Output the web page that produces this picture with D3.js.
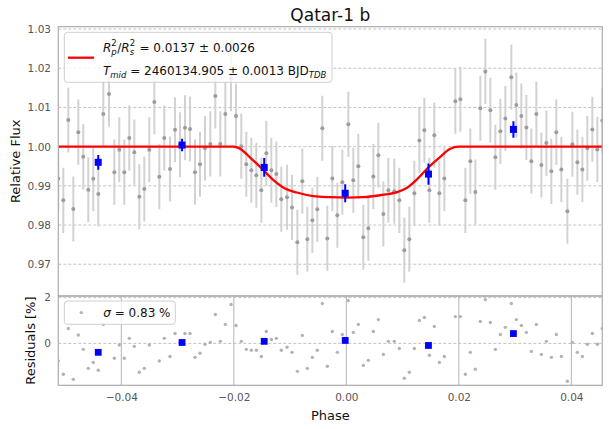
<!DOCTYPE html>
<html><head><meta charset="utf-8">
<script src="https://cdn.jsdelivr.net/npm/d3@7"></script>
<style>body{margin:0;background:#fff} svg{display:block} text{font-family:"DejaVu Sans",sans-serif}</style>
</head><body>
<svg id="c" width="609" height="429"></svg>
<script>
// ---- data ----
const phase = [-0.05120,-0.05031,-0.04942,-0.04853,-0.04764,-0.04676,-0.04587,-0.04498,-0.04409,-0.04320,
 -0.04219,-0.04124,-0.04036,-0.03947,-0.03858,-0.03769,-0.03680,-0.03591,-0.03502,-0.03413,
 -0.03324,-0.03236,-0.03134,-0.03045,-0.02956,-0.02868,-0.02779,-0.02690,-0.02601,-0.02512,
 -0.02418,-0.02329,-0.02240,-0.02151,-0.02050,-0.01961,-0.01867,-0.01778,-0.01689,-0.01600,
 -0.01511,-0.01422,-0.01333,-0.01244,-0.01156,-0.01054,-0.00965,-0.00871,-0.00782,-0.00693,
 -0.00604,-0.00516,-0.00427,-0.00338,-0.00249,-0.00160,-0.00071,0.00036,0.00124,0.00213,
 0.00302,0.00391,0.00480,0.00569,0.00658,0.00747,0.00853,0.00942,0.01031,0.01120,
 0.01209,0.01298,0.01387,0.01476,0.01564,0.01653,0.01742,0.01938,0.02027,0.02116,
 0.02204,0.02293,0.02382,0.02471,0.02560,0.02649,0.02738,0.02827,0.02933,0.03022,
 0.03111,0.03200,0.03289,0.03378,0.03467,0.03556,0.03644,0.03733,0.03822,0.03929,
 0.04018,0.04107,0.04196,0.04284,0.04373,0.04462,0.04551];
const flux = [0.9919,0.9863,1.0068,0.9841,1.0037,0.9974,0.9890,0.9918,0.9879,1.0083,
 1.0134,0.9935,0.9992,0.9935,1.0022,0.9986,0.9872,0.9892,0.9992,1.0114,
 0.9923,1.0022,0.9943,1.0043,1.0005,1.0048,1.0045,0.9935,0.9955,0.9996,
 1.0007,1.0129,1.0007,1.0083,1.0173,1.0078,1.0001,0.9955,0.9940,0.9927,
 0.9889,0.9983,0.9940,0.9930,0.9866,0.9871,0.9845,0.9756,0.9912,0.9764,
 0.9812,0.9840,1.0047,0.9766,0.9919,0.9825,0.9909,1.0057,0.9914,0.9950,
 0.9769,0.9792,0.9924,0.9978,0.9828,0.9889,0.9886,0.9863,0.9736,0.9764,
 0.9881,1.0016,1.0042,0.9889,1.0029,0.9881,0.9919,1.0116,1.0121,0.9863,
 0.9963,0.9884,1.0098,1.0192,1.0093,0.9973,1.0039,1.0072,1.0177,1.0106,
 1.0078,1.0049,0.9963,1.0083,0.9953,1.0009,0.9937,1.0037,0.9942,0.9835,
 1.0006,0.9960,0.9942,0.9996,1.0044,0.9993,1.0067];
const resid = [-0.77,-1.35,0.65,-1.57,0.37,-0.26,-1.09,-0.83,-1.17,0.83,
 1.34,-0.65,-0.07,-0.65,0.22,-0.13,-1.26,-1.09,-0.07,1.16,
 -0.77,0.22,-0.57,0.43,0.05,0.43,0.43,-0.61,-0.43,-0.04,
 0.04,1.26,0.09,0.83,1.70,0.78,0.09,-0.26,-0.30,-0.30,
 -0.57,0.52,0.17,0.22,-0.30,-0.17,-0.39,-1.22,0.35,-1.09,
 -0.61,-0.30,1.74,-1.00,0.52,-0.39,0.39,1.87,0.48,0.83,
 -0.96,-0.74,0.52,1.04,-0.48,0.09,0.09,-0.22,-1.52,-1.26,
 -0.22,1.00,1.13,-0.52,0.74,-0.83,-0.57,1.17,1.17,-1.35,
 -0.39,-1.13,0.96,1.91,0.91,-0.26,0.39,0.70,1.74,1.04,
 0.78,0.48,-0.35,0.83,-0.48,0.09,-0.61,0.39,-0.57,-1.65,
 0.04,-0.39,-0.57,-0.04,0.43,-0.04,0.65];
const fluxErr = 0.0083;
const modelPhase = [-0.0530,-0.0201,-0.0189,-0.0171,-0.0148,-0.0130,-0.0109,-0.0088,-0.0059,-0.0029,0.0001,
 0.0030,0.0060,0.0090,0.0108,0.0126,0.0143,0.0167,0.0184,0.0199,0.0470];
const modelFlux = [1.0,1.0,0.9995,0.9972,0.9941,0.9915,0.9893,0.9883,0.9874,0.9871,0.9870,
 0.9871,0.9876,0.9884,0.9895,0.9917,0.9943,0.9974,0.9994,1.0,1.0];
const binPhase = [-0.0441,-0.0292,-0.0146,-0.0002,0.0146,0.0297];
const binFlux = [0.9960,1.0004,0.9947,0.9881,0.9930,1.0044];
const binErr = [0.0019,0.0016,0.0024,0.0023,0.0027,0.0021];
const binResid = [-0.39,0.04,0.09,0.13,-0.09,0.43];
const xTicks = [-0.04,-0.02,0.00,0.02,0.04];
const yTicks = [0.97,0.98,0.99,1.00,1.01,1.02,1.03];
const rTicks = [0,2];

// ---- layout ----
const svg = d3.select('#c');
const L = 58.3, R = 602.3, T1 = 26.7, B1 = 296, B2 = 385.3;
const x = d3.scaleLinear().domain([-0.0512, 0.0455]).range([L, R]);
const y = d3.scaleLinear().domain([0.9619, 1.0306]).range([B1, T1]);
const yr = d3.scaleLinear().domain([-1.83, 2.07]).range([B2, B1]);
const gridCol = '#b4b4b4', spineCol = '#ababab', tickCol = '#555';

const defs = svg.append('defs');
defs.append('clipPath').attr('id','cp1').append('rect').attr('x',L).attr('y',T1).attr('width',R-L).attr('height',B1-T1);
defs.append('clipPath').attr('id','cp2').append('rect').attr('x',L).attr('y',B1).attr('width',R-L).attr('height',B2-B1);

// ---- top panel ----
const g1 = svg.append('g').attr('clip-path','url(#cp1)');
g1.selectAll('line.hg').data(yTicks).join('line')
  .attr('x1',L).attr('x2',R).attr('y1',d=>y(d)).attr('y2',d=>y(d))
  .attr('stroke',gridCol).attr('stroke-width',0.8).attr('stroke-dasharray','3,2');
g1.selectAll('line.eb').data(phase).join('line')
  .attr('x1',(d)=>x(d)).attr('x2',(d)=>x(d))
  .attr('y1',(d,i)=>y(flux[i]-fluxErr)).attr('y2',(d,i)=>y(flux[i]+fluxErr))
  .attr('stroke','#d2d2d2').attr('stroke-width',2);
g1.selectAll('circle.pt').data(phase).join('circle')
  .attr('cx',d=>x(d)).attr('cy',(d,i)=>y(flux[i])).attr('r',2)
  .attr('fill','#9c9c9c');
const line = d3.line().x(d=>x(d[0])).y(d=>y(d[1])).curve(d3.curveMonotoneX);
g1.append('path').datum(modelPhase.map((p,i)=>[p,modelFlux[i]]))
  .attr('d',line).attr('fill','none').attr('stroke','#ff0000').attr('stroke-width',2.3);
g1.selectAll('line.beb').data(binPhase).join('line')
  .attr('x1',d=>x(d)).attr('x2',d=>x(d))
  .attr('y1',(d,i)=>y(binFlux[i]-binErr[i])).attr('y2',(d,i)=>y(binFlux[i]+binErr[i]))
  .attr('stroke','#0000ff').attr('stroke-width',2);
g1.selectAll('rect.bp').data(binPhase).join('rect')
  .attr('x',d=>x(d)-3.5).attr('y',(d,i)=>y(binFlux[i])-3.5).attr('width',7).attr('height',7)
  .attr('fill','#0000ff');

// ---- residual panel ----
const g2 = svg.append('g').attr('clip-path','url(#cp2)');
g2.selectAll('line.vg').data(xTicks).join('line')
  .attr('x1',d=>x(d)).attr('x2',d=>x(d)).attr('y1',B1).attr('y2',B2)
  .attr('stroke',gridCol).attr('stroke-width',1);
g2.selectAll('line.rg').data(rTicks).join('line')
  .attr('x1',L).attr('x2',R).attr('y1',d=>yr(d)).attr('y2',d=>yr(d))
  .attr('stroke',gridCol).attr('stroke-width',0.8).attr('stroke-dasharray','3,2');
g2.selectAll('circle.rp').data(phase).join('circle')
  .attr('cx',d=>x(d)).attr('cy',(d,i)=>yr(resid[i])).attr('r',1.7)
  .attr('fill','#b3b3b3');
g2.selectAll('rect.brp').data(binPhase).join('rect')
  .attr('x',d=>x(d)-3.4).attr('y',(d,i)=>yr(binResid[i])-3.4).attr('width',6.8).attr('height',6.8)
  .attr('fill','#0000ff');

// ---- spines ----
[[T1,B1],[B1,B2]].forEach(([t,b])=>{
  svg.append('rect').attr('x',L).attr('y',t).attr('width',R-L).attr('height',b-t)
    .attr('fill','none').attr('stroke',spineCol).attr('stroke-width',1.2);
});

// ---- axes ----
const fmt = d3.format('.2f');
const ay = svg.append('g').attr('transform',`translate(${L},0)`)
  .call(d3.axisLeft(y).tickValues(yTicks).tickFormat(fmt).tickSize(0).tickPadding(7.3));
const ar = svg.append('g').attr('transform',`translate(${L},0)`)
  .call(d3.axisLeft(yr).tickValues(rTicks).tickFormat(d3.format('d')).tickSize(0).tickPadding(7.3));
const ax = svg.append('g').attr('transform',`translate(0,${B2})`)
  .call(d3.axisBottom(x).tickValues(xTicks).tickFormat(fmt).tickSize(0).tickPadding(8));
[ay,ar,ax].forEach(a=>{
  a.select('.domain').remove();
  a.selectAll('text').attr('font-size',10.5).attr('fill',tickCol).attr('font-family','DejaVu Sans');
});

// ---- labels ----
svg.append('text').attr('x',330.3).attr('y',20.8).attr('text-anchor','middle')
  .attr('font-size',17).attr('fill','#111').text('Qatar-1 b');
svg.append('text').attr('transform','translate(19.5,161.3) rotate(-90)').attr('text-anchor','middle')
  .attr('font-size',13).attr('fill','#111').text('Relative Flux');
svg.append('text').attr('transform','translate(35,340.6) rotate(-90)').attr('text-anchor','middle')
  .attr('font-size',13).attr('fill','#111').text('Residuals [%]');
svg.append('text').attr('x',330.3).attr('y',420).attr('text-anchor','middle')
  .attr('font-size',13).attr('fill','#111').text('Phase');

// ---- legends ----
function mathLine(g, x0, y0, segs, base) {
  let cx = x0;
  segs.forEach(s => {
    const parts = s.stack ? s.stack : [s];
    let w = 0;
    parts.forEach(p => {
      const t = g.append('text').attr('x', cx).attr('y', y0 + (p.dy||0))
        .attr('font-size', p.size || base).attr('fill','#111')
        .attr('font-style', p.it ? 'italic' : 'normal')
        .attr('xml:space','preserve').style('white-space','pre').text(p.t);
      w = Math.max(w, t.node().getComputedTextLength());
    });
    cx += w + (s.gap||0);
  });
}
const lg = svg.append('g');
lg.append('rect').attr('x',64.3).attr('y',32.3).attr('width',332-64.3).attr('height',50)
  .attr('rx',3).attr('fill','#fff').attr('fill-opacity',0.8).attr('stroke','#cfcfcf').attr('stroke-width',1);
lg.append('line').attr('x1',68).attr('x2',94).attr('y1',57.7).attr('y2',57.7)
  .attr('stroke','#ff0000').attr('stroke-width',2.3);
const fs = 12, ss = 8.5;
mathLine(lg, 103, 51.7, [
  {t:'R', it:true},
  {stack:[{t:'2', size:ss, dy:-5.5},{t:'p', size:ss, dy:3.5, it:true}], gap:0.5},
  {t:'/'},
  {t:'R', it:true},
  {stack:[{t:'2', size:ss, dy:-5.5},{t:'s', size:ss, dy:3.5, it:true}], gap:0.5},
  {t:' = 0.0137 ± 0.0026'}
], fs);
mathLine(lg, 103, 75, [
  {t:'T', it:true},
  {t:'mid', size:ss, dy:2.5, it:true},
  {t:' = 2460134.905 ± 0.0013 BJD'},
  {t:'TDB', size:ss, dy:2.5, it:true}
], fs);

const lg2 = svg.append('g');
lg2.append('rect').attr('x',64.3).attr('y',301).attr('width',175.3-64.3).attr('height',23.3)
  .attr('rx',3).attr('fill','#fff').attr('fill-opacity',0.8).attr('stroke','#cfcfcf').attr('stroke-width',1);
lg2.append('circle').attr('cx',81.3).attr('cy',312.6).attr('r',1.7).attr('fill','#b3b3b3');
mathLine(lg2, 103.3, 317, [
  {t:'σ', it:true},
  {t:' = 0.83 %'}
], fs);
</script>
</body></html>
